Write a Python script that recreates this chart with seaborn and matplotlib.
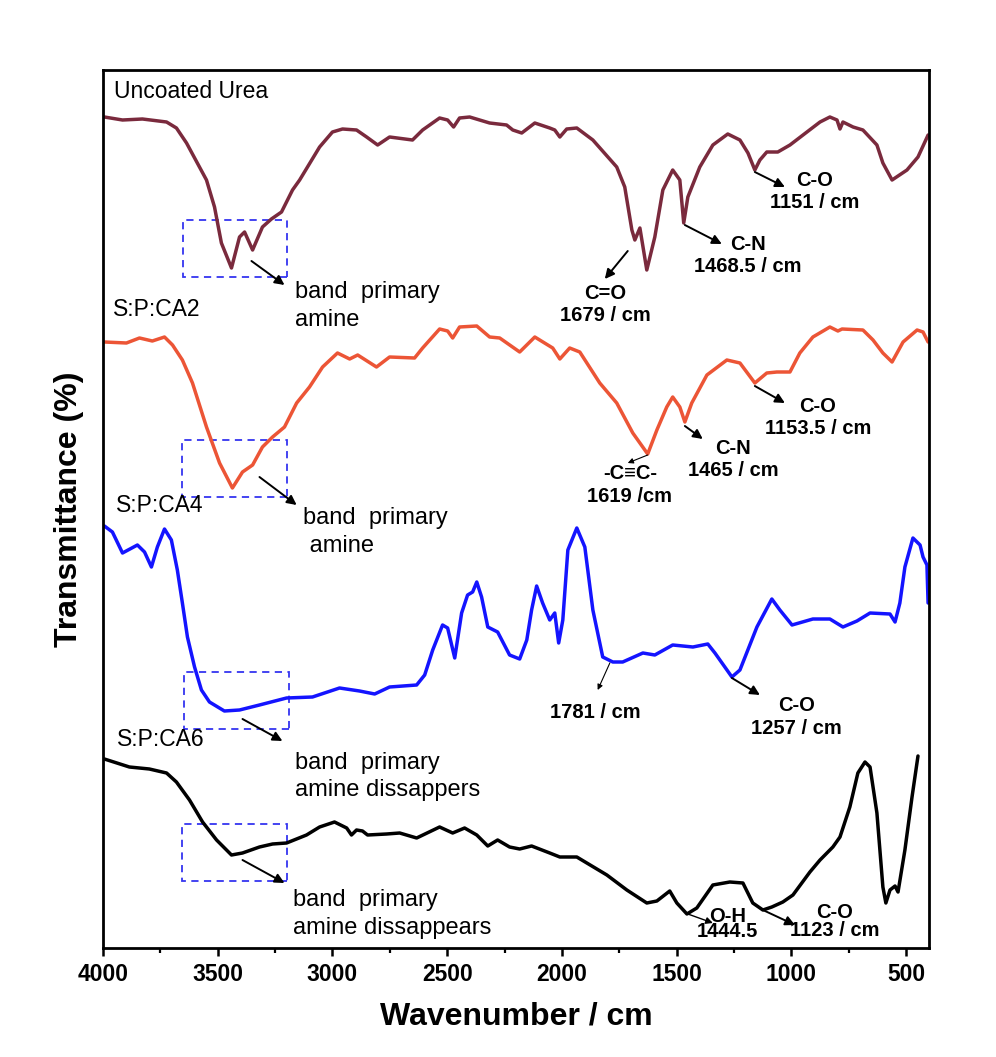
import numpy as np
import pandas as pd
import matplotlib
matplotlib.use("Agg")
import matplotlib.pyplot as plt
import seaborn as sns
from matplotlib.patches import Rectangle
from matplotlib.ticker import MultipleLocator

# ---------------- data (wavenumber in cm-1, transmittance in stacked a.u.) ----------------
urea_wn = [3994, 3915, 3828, 3723, 3680, 3636, 3549, 3514, 3484, 3440, 3405, 3383, 3348, 3305, 3266,
           3222, 3174, 3143, 3056, 3000, 2956, 2895, 2851, 2803, 2751, 2651, 2607, 2533, 2498, 2472,
           2446, 2402, 2315, 2241, 2214, 2175, 2118, 2053, 2031, 2009, 1979, 1935, 1865, 1761, 1726,
           1695, 1682, 1660, 1630, 1595, 1560, 1517, 1486, 1469, 1451, 1399, 1342, 1277, 1224, 1189,
           1159, 1137, 1107, 1059, 1006, 932, 875, 832, 801, 788, 775, 731, 688, 627, 601,
           561, 496, 448, 404]
urea_t = [83.1, 82.8, 82.9, 82.6, 82.0, 80.5, 76.8, 74.1, 70.5, 68.0, 71.1, 71.6, 69.8, 72.1, 72.9,
          73.6, 75.8, 76.8, 80.1, 81.6, 81.9, 81.8, 81.1, 80.3, 81.1, 80.8, 81.8, 83.0, 82.8, 82.1,
          83.0, 83.1, 82.5, 82.3, 81.8, 81.5, 82.5, 82.0, 81.8, 81.1, 81.9, 82.0, 80.8, 78.1, 76.1,
          71.8, 70.8, 72.0, 67.8, 71.1, 75.8, 77.8, 76.8, 72.5, 75.1, 78.1, 80.3, 81.4, 80.8, 79.5,
          77.8, 78.8, 79.6, 79.6, 80.3, 81.6, 82.6, 83.1, 82.8, 81.9, 82.6, 82.1, 81.8, 80.3, 78.5,
          76.8, 77.8, 79.1, 81.3]

ca2_wn = [3994, 3898, 3841, 3785, 3732, 3697, 3654, 3610, 3549, 3492, 3436, 3392, 3348, 3305, 3261,
          3209, 3156, 3100, 3043, 2978, 2925, 2890, 2808, 2751, 2642, 2607, 2533, 2498, 2476, 2446,
          2371, 2315, 2271, 2184, 2118, 2040, 2009, 1966, 1922, 1835, 1761, 1691, 1626, 1586, 1543,
          1517, 1486, 1464, 1434, 1368, 1281, 1224, 1159, 1107, 1063, 1006, 963, 906, 832, 797,
          779, 688, 644, 601, 561, 513, 452, 426, 404]
ca2_t = [60.6, 60.5, 61.0, 60.7, 61.1, 60.3, 58.8, 56.5, 52.1, 48.5, 46.0, 47.6, 48.3, 50.1, 51.1,
         52.1, 54.5, 56.1, 58.1, 59.5, 58.9, 59.3, 58.1, 59.1, 59.0, 60.0, 61.9, 61.7, 61.0, 62.1,
         62.2, 61.1, 61.0, 59.6, 61.1, 60.0, 58.9, 60.0, 59.6, 56.5, 54.5, 51.5, 49.4, 51.8, 54.1,
         55.1, 54.1, 52.6, 54.5, 57.3, 58.8, 58.5, 56.5, 57.5, 57.6, 57.6, 59.5, 61.1, 62.1, 61.7,
         61.9, 61.8, 60.8, 59.5, 58.6, 60.6, 61.8, 61.6, 60.6]

ca4_wn = [3994, 3959, 3915, 3850, 3819, 3789, 3763, 3732, 3702, 3676, 3654, 3632, 3601, 3571, 3536,
          3471, 3405, 3318, 3200, 3087, 2969, 2882, 2816, 2751, 2633, 2598, 2563, 2520, 2498, 2467,
          2437, 2411, 2389, 2371, 2350, 2323, 2280, 2228, 2184, 2153, 2132, 2110, 2084, 2053, 2031,
          2014, 1996, 1974, 1935, 1900, 1865, 1822, 1778, 1735, 1647, 1595, 1517, 1429, 1364, 1333,
          1259, 1224, 1150, 1085, 1050, 997, 906, 832, 775, 714, 657, 570, 548, 527, 505,
          470, 439, 426, 409, 404]
ca4_t = [42.2, 41.6, 39.5, 40.3, 39.6, 38.1, 40.1, 41.9, 40.8, 37.8, 34.5, 31.1, 28.1, 25.8, 24.6,
         23.7, 23.8, 24.3, 25.0, 25.1, 26.0, 25.7, 25.4, 26.1, 26.3, 27.3, 29.8, 32.3, 32.0, 29.0,
         33.5, 35.3, 35.6, 36.6, 35.1, 32.1, 31.6, 29.3, 28.9, 30.8, 33.8, 36.2, 34.5, 32.8, 33.5,
         30.5, 32.8, 39.8, 42.0, 40.1, 33.8, 29.1, 28.6, 28.6, 29.5, 29.3, 30.3, 30.1, 30.4, 29.5,
         27.1, 27.8, 32.1, 34.9, 33.8, 32.3, 32.9, 32.9, 32.1, 32.7, 33.5, 33.4, 32.6, 34.5, 38.1,
         41.0, 40.3, 39.1, 38.3, 34.5]

ca6_wn = [3994, 3885, 3798, 3723, 3680, 3623, 3566, 3505, 3440, 3392, 3318, 3261, 3200, 3113, 3056,
          2991, 2938, 2917, 2895, 2869, 2847, 2764, 2707, 2633, 2533, 2476, 2424, 2371, 2323, 2280,
          2228, 2184, 2132, 2053, 2009, 1935, 1804, 1717, 1630, 1586, 1530, 1499, 1455, 1412, 1342,
          1268, 1211, 1168, 1124, 1085, 1037, 993, 919, 875, 819, 788, 745, 710, 679, 657,
          627, 601, 588, 570, 548, 535, 505, 474, 448]
ca6_t = [18.9, 18.1, 17.9, 17.5, 16.6, 14.8, 12.6, 10.8, 9.3, 9.5, 10.1, 10.4, 10.5, 11.3, 12.1,
         12.6, 12.0, 11.3, 11.8, 11.7, 11.3, 11.4, 11.5, 11.0, 12.1, 11.5, 12.0, 11.3, 10.2, 10.8,
         10.1, 9.9, 10.2, 9.5, 9.1, 9.1, 7.3, 5.8, 4.5, 4.7, 5.7, 4.5, 3.4, 4.0, 6.3,
         6.6, 6.5, 4.5, 3.8, 4.1, 4.6, 5.3, 7.6, 8.8, 10.1, 11.1, 14.1, 17.5, 18.6, 18.1,
         13.5, 6.1, 4.5, 5.8, 6.2, 5.6, 9.8, 15.1, 19.2]

sample_names = ["Uncoated Urea", "S:P:CA2", "S:P:CA4", "S:P:CA6"]
xtick_values = [4000, 3500, 3000, 2500, 2000, 1500, 1000, 500]

# ---------------- styling / layout ----------------
colors = ["#7A2A3D", "#EC5536", "#1414FF", "#000000"]
sns.set_theme(style="ticks")
plt.rcParams["font.family"] = ["Liberation Sans", "DejaVu Sans"]
plt.rcParams["text.color"] = "black"
plt.rcParams["axes.labelcolor"] = "black"
plt.rcParams["xtick.color"] = "black"
plt.rcParams["ytick.color"] = "black"

fig = plt.figure(figsize=(9.96, 10.57), dpi=100)
ax = fig.add_axes([103 / 996, 1 - 948 / 1057, (929 - 103) / 996, (948 - 70) / 1057])

series = [(urea_wn, urea_t), (ca2_wn, ca2_t), (ca4_wn, ca4_t), (ca6_wn, ca6_t)]
for (wn, t), c in zip(series, colors):
    df = pd.DataFrame({"wn": wn, "t": t})
    sns.lineplot(data=df, x="wn", y="t", color=c, linewidth=2.5, sort=False,
                 estimator=None, ax=ax)

ax.set_xlim(4000, 400)
ax.set_ylim(0, 87.8)
ax.set_yticks([])
ax.set_xticks(xtick_values)
ax.set_xticklabels([str(v) for v in xtick_values], fontweight="bold", fontsize=16.5, color="black")
ax.xaxis.set_minor_locator(MultipleLocator(250))
ax.tick_params(axis="x", which="major", direction="out", length=6, width=1.8, pad=5, colors="black")
ax.tick_params(axis="x", which="minor", direction="out", length=3.5, width=1.6, colors="black")
for s in ax.spines.values():
    s.set_linewidth(2.0)
    s.set_color("black")
ax.set_xlabel("Wavenumber / cm", fontsize=23, fontweight="bold", labelpad=11, color="black")
ax.set_ylabel("Transmittance (%)", fontsize=23, fontweight="bold", labelpad=14, color="black")

# sample labels
label_pos = [(3950, 85.7), (3955, 63.9), (3942, 44.2), (3937, 20.9)]
for name, (x, y) in zip(sample_names, label_pos):
    ax.text(x, y, name, fontsize=16.5, ha="left", va="center", color="black")

# dashed boxes around the N-H band region
boxes = [(3200, 3653, 67.1, 72.8), (3200, 3654, 45.1, 50.8),
         (3191, 3645, 21.9, 27.6), (3200, 3654, 6.7, 12.4)]
for x0, x1, y0, y1 in boxes:
    ax.add_patch(Rectangle((x0, y0), x1 - x0, y1 - y0, fill=False, edgecolor="#3535F0",
                           linewidth=1.3, linestyle=(0, (4, 3))))

def arrow(start, end, lw=1.4, ms=14):
    ax.annotate("", xy=end, xytext=start,
                arrowprops=dict(arrowstyle="-|>", color="black", lw=lw,
                                mutation_scale=ms, shrinkA=0, shrinkB=0))

# band primary amine notes
band_notes = [((3353, 68.7), (3209, 66.3), (3165, 64.2), "band  primary\namine"),
              ((3318, 47.1), (3156, 44.3), (3130, 41.6), "band  primary\n amine"),
              ((3392, 22.9), (3218, 20.7), (3165, 17.15), "band  primary\namine dissappers"),
              ((3392, 8.8), (3209, 6.5), (3174, 3.4), "band  primary\namine dissappears")]
for s, e, tp, txt in band_notes:
    arrow(s, e)
    ax.text(tp[0], tp[1], txt, fontsize=17, ha="left", va="center", linespacing=1.3,
            color="black")

# peak notes
peak_notes = [((1713, 69.7), (1813, 66.9), (1810, 64.35), "C=O\n1679 / cm", 1.4, 14, 1.2),
              ((1464, 72.3), (1303, 70.4), (1189, 69.25), "C-N\n1468.5 / cm", 1.4, 14, 1.2),
              ((1159, 77.6), (1028, 76.1), (897, 75.6), "C-O\n1151 / cm", 1.4, 14, 1.2),
              ((1626, 49.3), (1713, 48.5), (1704, 46.3), "-C\u2261C-\n1619 /cm", 0.8, 8, 1.3),
              ((1464, 52.2), (1386, 50.9), (1255, 48.9), "C-N\n1465 / cm", 1.4, 14, 1.2),
              ((1159, 56.2), (1028, 54.5), (884, 53.0), "C-O\n1153.5 / cm", 1.4, 14, 1.2),
              ((1791, 28.5), (1844, 25.8), (1853, 23.5), "1781 / cm", 0.8, 8, 1.0),
              ((1259, 27.0), (1137, 25.3), (976, 23.1), "C-O\n1257 / cm", 1.4, 14, 1.25),
              ((1451, 3.4), (1342, 2.5), (1277, 2.4), "O-H\n1444.5", 1.0, 10, 0.75),
              ((1124, 3.8), (984, 2.3), (810, 2.65), "C-O\n1123 / cm", 1.4, 14, 1.0)]
for s, e, tp, txt, lw, ms, ls in peak_notes:
    arrow(s, e, lw=lw, ms=ms)
    ax.text(tp[0], tp[1], txt, fontsize=14.5, fontweight="bold", ha="center", va="center",
            multialignment="center", linespacing=ls, color="black")

fig.savefig("out.png", dpi=100, facecolor="white")
